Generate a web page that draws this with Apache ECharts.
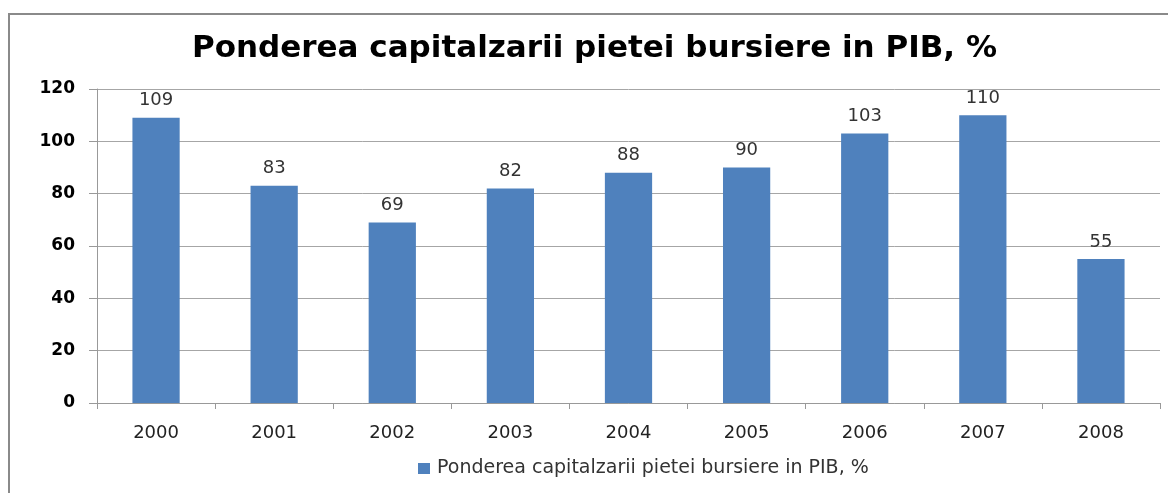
<!DOCTYPE html>
<html>
<head>
<meta charset="utf-8">
<script src="https://cdn.jsdelivr.net/npm/echarts@6/dist/echarts.min.js"></script>
<style>
html,body{margin:0;padding:0;background:#fff;}
#c{width:1168px;height:493px;}
</style>
</head>
<body>
<div id="c"></div>
<script>
var titleText = 'Ponderea capitalzarii pietei bursiere in PIB, %';
var seriesName = 'Ponderea capitalzarii pietei bursiere in PIB, %';
var categories = ['2000','2001','2002','2003','2004','2005','2006','2007','2008'];
var values = [109, 83, 69, 82, 88, 90, 103, 110, 55];

var FONT = '"DejaVu Sans", Verdana, sans-serif';
var chart = echarts.init(document.getElementById('c'));
chart.setOption({
  animation: false,
  backgroundColor: '#fff',
  title: {
    text: titleText,
    left: 187,
    top: 28,
    textStyle: {fontFamily: FONT, fontWeight: 'bold', fontSize: 31, color: '#000'}
  },
  legend: {
    bottom: 10,
    left: 413,
    itemWidth: 12,
    itemHeight: 11,
    itemGap: 8,
    icon: 'rect',
    textStyle: {fontFamily: FONT, fontSize: 19, color: '#333', padding: [0, 0, 0, 2]},
    data: [seriesName]
  },
  graphic: [{
    type: 'polyline',
    shape: {points: [[9, 493], [9, 14], [1168, 14]]},
    style: {stroke: '#8a8a8a', lineWidth: 2, fill: null}
  }],
  grid: {left: 97, right: 8, top: 89, bottom: 90},
  xAxis: {
    type: 'category',
    data: categories,
    axisLine: {lineStyle: {color: '#999', width: 1}},
    axisTick: {show: true, length: 6, lineStyle: {color: '#999'}},
    axisLabel: {fontFamily: FONT, fontSize: 18, color: '#222', margin: 21}
  },
  yAxis: {
    type: 'value',
    min: 0, max: 120, interval: 20,
    axisLine: {show: true, lineStyle: {color: '#999', width: 1}},
    axisTick: {show: true, length: 8, lineStyle: {color: '#999'}},
    splitLine: {show: true, lineStyle: {color: '#a6a6a6', width: 1}},
    axisLabel: {fontFamily: FONT, fontWeight: 'bold', fontSize: 17, color: '#000', margin: 22}
  },
  series: [{
    name: seriesName,
    type: 'bar',
    data: values,
    barWidth: '40%',
    itemStyle: {color: '#4F81BD'},
    label: {show: true, position: 'top', distance: 8, fontFamily: FONT, fontSize: 18, color: '#333'}
  }]
});
</script>
</body>
</html>
